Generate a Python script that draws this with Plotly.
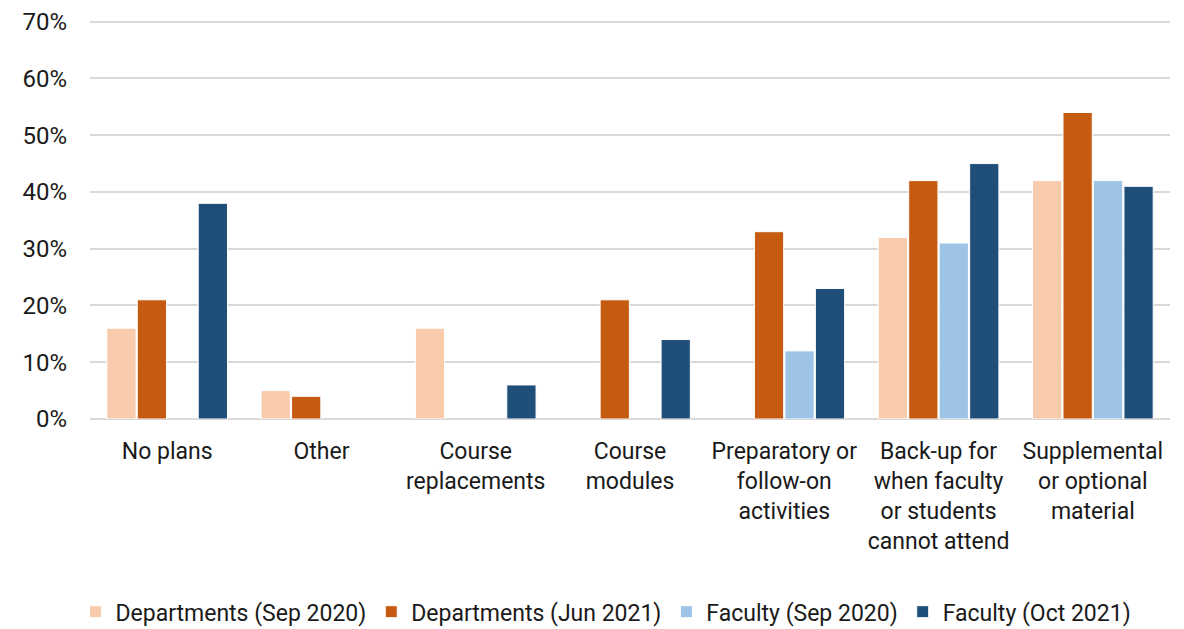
import plotly.graph_objects as go

categories = ["No plans", "Other", "Course<br>replacements", "Course<br>modules",
              "Preparatory or<br>follow-on<br>activities",
              "Back-up for<br>when faculty<br>or students<br>cannot attend",
              "Supplemental<br>or optional<br>material"]
series_names = ["Departments (Sep 2020)", "Departments (Jun 2021)",
                "Faculty (Sep 2020)", "Faculty (Oct 2021)"]
dept_sep2020 = [0.16, 0.05, 0.16, None, None, 0.32, 0.42]
dept_jun2021 = [0.21, 0.04, None, 0.21, 0.33, 0.42, 0.54]
fac_sep2020 = [None, None, None, None, 0.12, 0.31, 0.42]
fac_oct2021 = [0.38, None, 0.06, 0.14, 0.23, 0.45, 0.41]
colors = ["#F8CBAD", "#C55A11", "#9DC3E6", "#1F4E79"]
tick_vals = [0, 0.1, 0.2, 0.3, 0.4, 0.5, 0.6, 0.7]

font_family = "Roboto, Arial"

fig = go.Figure()
for name, vals, col in zip(series_names,
                           [dept_sep2020, dept_jun2021, fac_sep2020, fac_oct2021],
                           colors):
    fig.add_trace(go.Bar(name=name, x=categories, y=vals, marker_color=col,
                         marker_line=dict(color="white", width=1)))

fig.update_layout(
    width=1184, height=629,
    barmode="group", bargap=0.21, bargroupgap=0.04,
    plot_bgcolor="white", paper_bgcolor="white",
    margin=dict(l=82, r=22, t=12, b=218, autoexpand=False),
    font=dict(family=font_family, size=23, color="#1a1a1a"),
    legend=dict(orientation="h", x=0.505, xanchor="center", xref="container",
                y=0.006, yanchor="bottom", yref="container",
                font=dict(size=23), itemwidth=30, traceorder="normal"),
    yaxis=dict(range=[0, 0.703], tickvals=tick_vals, tickformat=".0%",
               showgrid=True, gridcolor="#d9d9d9", gridwidth=1.5,
               zeroline=True, zerolinecolor="#d9d9d9", zerolinewidth=1.5,
               ticks="", ticklabelstandoff=22, tickfont=dict(size=24),
               automargin=False),
    xaxis=dict(showline=False, ticks="", tickfont=dict(size=23), tickangle=0,
               ticklabelstandoff=16, automargin=False),
)

fig.write_html("out.html")
